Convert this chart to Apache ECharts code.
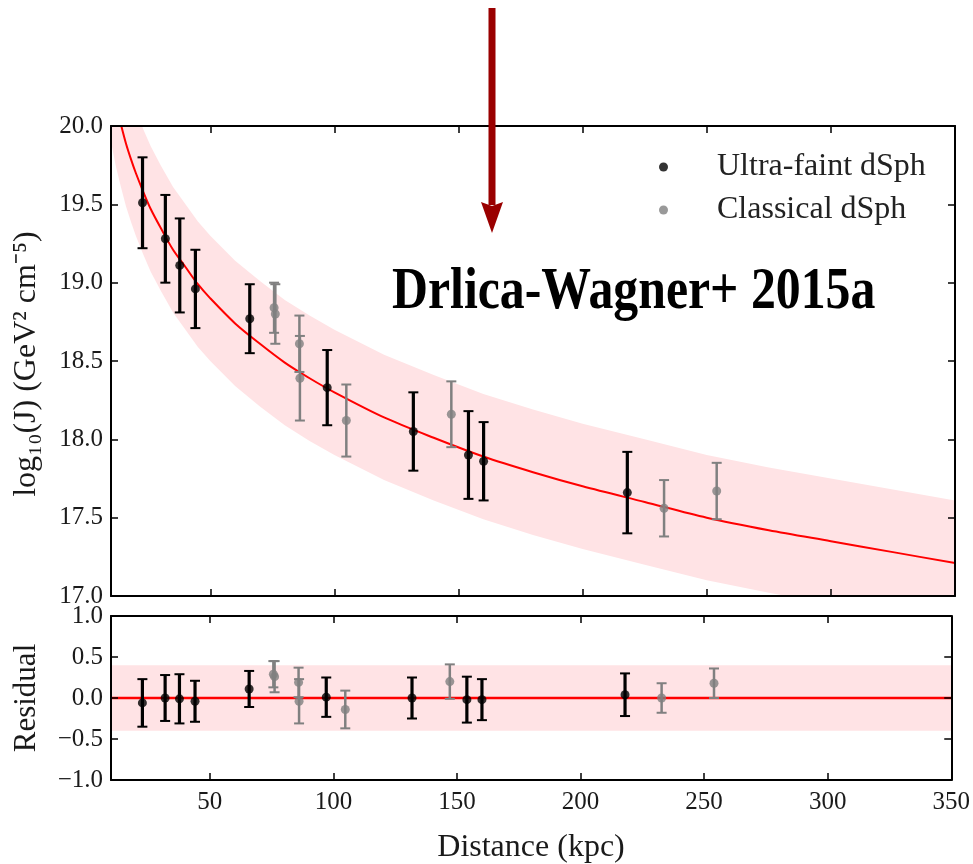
<!DOCTYPE html>
<html>
<head>
<meta charset="utf-8">
<script src="https://cdn.jsdelivr.net/npm/echarts@6/dist/echarts.min.js"></script>
<style>
html,body{margin:0;padding:0;background:#fff;}
#chart{width:973px;height:864px;}
</style>
</head>
<body>
<div id="chart"></div>
<script>
// ---------------- data ----------------
const xTicks = [50, 100, 150, 200, 250, 300, 350];
const X_MIN = 10, X_MAX = 350;
const BAND = 0.4;

// Ultra-faint dSph (black)
const ufDist = [22.7, 31.9, 37.7, 44.0, 65.9, 97.1, 131.8, 154.0, 160.1, 218.0];
const ufJ    = [19.51, 19.28, 19.11, 18.96, 18.77, 18.33, 18.05, 17.90, 17.86, 17.66];
const ufErr  = [0.29, 0.28, 0.30, 0.25, 0.22, 0.24, 0.25, 0.28, 0.25, 0.26];
const ufRes  = [-0.06, 0.00, -0.01, -0.04, 0.11, 0.01, 0.00, -0.02, -0.02, 0.04];

// Classical dSph (grey)
const clDist = [75.7, 76.2, 85.9, 86.1, 104.8, 147.1, 232.8, 254.0];
const clJ    = [18.84, 18.80, 18.61, 18.39, 18.12, 18.16, 17.56, 17.67];
const clErr  = [0.16, 0.19, 0.18, 0.27, 0.23, 0.21, 0.18, 0.18];
const clRes  = [0.29, 0.26, 0.19, -0.04, -0.14, 0.20, 0.00, 0.18];

// Model curve (red)
const curveDist = [10, 12, 14, 16, 18, 20, 23, 26, 30, 35, 40, 45, 50, 60, 70, 80, 90, 100, 120, 140, 160, 180, 200, 225, 250, 275, 300, 325, 350];
const curveJ    = [20.30, 20.14, 20.01, 19.89, 19.79, 19.70, 19.58, 19.47, 19.35, 19.21, 19.10, 18.99, 18.90, 18.74, 18.61, 18.49, 18.39, 18.30, 18.14, 18.01, 17.89, 17.79, 17.70, 17.60, 17.50, 17.42, 17.35, 17.28, 17.21];

// ---------------- styling ----------------
const FONT = 'Liberation Serif';
const BLACK = '#000000';
const GREY = '#808080';
const PINK = '#ffe3e5';
const RED = '#ff0000';
const TXT = '#1a1a1a';

const chart = echarts.init(document.getElementById('chart'), null, {renderer: 'canvas'});

function errBars(dist, val, err) {
  return dist.map((d, i) => [d, val[i] - err[i], val[i] + err[i]]);
}
function pts(dist, val) {
  return dist.map((d, i) => [d, val[i]]);
}
function errRender(color, lw, capHalf) {
  return function (params, api) {
    const x = api.value(0), lo = api.value(1), hi = api.value(2);
    const pHi = api.coord([x, hi]);
    const pLo = api.coord([x, lo]);
    const st = {stroke: color, lineWidth: lw};
    const capSt = {stroke: color, lineWidth: 2};
    return {
      type: 'group',
      children: [
        {type: 'line', shape: {x1: pHi[0], y1: pHi[1], x2: pLo[0], y2: pLo[1]}, style: st},
        {type: 'line', shape: {x1: pHi[0] - capHalf, y1: pHi[1], x2: pHi[0] + capHalf, y2: pHi[1]}, style: capSt},
        {type: 'line', shape: {x1: pLo[0] - capHalf, y1: pLo[1], x2: pLo[0] + capHalf, y2: pLo[1]}, style: capSt}
      ]
    };
  };
}

// band data: [distance, lower, upper]
const bandData = curveDist.map((d, i) => [d, curveJ[i] - BAND, curveJ[i] + BAND]);
function bandRender(params, api) {
  if (params.dataIndex !== 0) return null;
  const upper = bandData.map(r => api.coord([r[0], r[2]]));
  const lower = bandData.map(r => api.coord([r[0], r[1]])).reverse();
  const cs = params.coordSys;
  return {
    type: 'polygon',
    shape: {points: upper.concat(lower)},
    style: {fill: PINK},
    clipPath: {type: 'rect', shape: {x: cs.x, y: cs.y, width: cs.width, height: cs.height}}
  };
}

const axisLineStyle = {show: true, onZero: false, lineStyle: {color: '#000', width: 2}};
function xAx(grid, pos, labels) {
  return {
    type: 'value', gridIndex: grid, position: pos, min: X_MIN, max: X_MAX, z: 10,
    axisLine: axisLineStyle,
    axisTick: {show: true, inside: true, length: 7, customValues: xTicks, lineStyle: {color: '#000', width: 1.5}},
    axisLabel: labels ? {show: true, customValues: xTicks, fontFamily: FONT, fontSize: 25, color: TXT, margin: 10} : {show: false},
    splitLine: {show: false}
  };
}
function yAx(grid, pos, min, max, labels) {
  return {
    type: 'value', gridIndex: grid, position: pos, min: min, max: max, interval: 0.5, z: 10,
    axisLine: axisLineStyle,
    axisTick: {show: true, inside: true, length: 7, lineStyle: {color: '#000', width: 1.5}},
    axisLabel: labels ? {show: true, fontFamily: FONT, fontSize: 25, color: TXT, margin: 8,
      formatter: v => v.toFixed(1).replace('-', '\u2212')} : {show: false},
    splitLine: {show: false}
  };
}

const option = {
  animation: false,
  backgroundColor: '#ffffff',
  grid: [
    {left: 111, top: 126, width: 844, height: 470},
    {left: 111, top: 616, width: 844, height: 164}
  ],
  xAxis: [xAx(0, 'bottom', false), xAx(0, 'top', false), xAx(1, 'bottom', true), xAx(1, 'top', false)],
  yAxis: [yAx(0, 'left', 17, 20, true), yAx(0, 'right', 17, 20, false), yAx(1, 'left', -1, 1, true), yAx(1, 'right', -1, 1, false)],
  legend: {
    orient: 'vertical', left: 654, top: 146,
    data: ['Ultra-faint dSph', 'Classical dSph'],
    icon: 'circle', itemWidth: 9, itemHeight: 9, itemGap: 11,
    textStyle: {fontFamily: FONT, fontSize: 32, color: '#222', padding: [0, 0, 0, 44], lineHeight: 32}
  },
  series: [
    {
      type: 'custom', xAxisIndex: 0, yAxisIndex: 0, silent: true,
      renderItem: bandRender, data: bandData, encode: {x: 0, y: [1, 2]}, z: 1
    },
    {
      type: 'line', xAxisIndex: 0, yAxisIndex: 0, silent: true,
      data: pts(curveDist, curveJ), symbol: 'none', smooth: 0.3,
      lineStyle: {color: RED, width: 2}, z: 2
    },
    {
      type: 'custom', xAxisIndex: 0, yAxisIndex: 0, renderItem: errRender(GREY, 2.5, 5),
      data: errBars(clDist, clJ, clErr), encode: {x: 0, y: [1, 2]}, z: 3
    },
    {
      type: 'custom', xAxisIndex: 0, yAxisIndex: 0, renderItem: errRender(BLACK, 3.2, 5),
      data: errBars(ufDist, ufJ, ufErr), encode: {x: 0, y: [1, 2]}, z: 3
    },
    {
      name: 'Ultra-faint dSph', type: 'scatter', xAxisIndex: 0, yAxisIndex: 0,
      data: pts(ufDist, ufJ), symbol: 'circle', symbolSize: 9, itemStyle: {color: BLACK}, z: 4
    },
    {
      name: 'Classical dSph', type: 'scatter', xAxisIndex: 0, yAxisIndex: 0,
      data: pts(clDist, clJ), symbol: 'circle', symbolSize: 9, itemStyle: {color: GREY}, z: 4
    },
    // residual panel
    {
      type: 'line', xAxisIndex: 2, yAxisIndex: 2, silent: true,
      data: [[X_MIN, 0], [X_MAX, 0]], symbol: 'none',
      lineStyle: {color: RED, width: 2.5}, z: 2,
      markArea: {
        silent: true, itemStyle: {color: PINK, opacity: 1},
        data: [[{xAxis: X_MIN, yAxis: -BAND}, {xAxis: X_MAX, yAxis: BAND}]]
      }
    },
    {
      type: 'custom', xAxisIndex: 2, yAxisIndex: 2, renderItem: errRender(GREY, 2.5, 5),
      data: errBars(clDist, clRes, clErr), encode: {x: 0, y: [1, 2]}, z: 3
    },
    {
      type: 'custom', xAxisIndex: 2, yAxisIndex: 2, renderItem: errRender(BLACK, 3.2, 5),
      data: errBars(ufDist, ufRes, ufErr), encode: {x: 0, y: [1, 2]}, z: 3
    },
    {
      name: 'Ultra-faint dSph', type: 'scatter', xAxisIndex: 2, yAxisIndex: 2,
      data: pts(ufDist, ufRes), symbol: 'circle', symbolSize: 9, itemStyle: {color: BLACK}, z: 4
    },
    {
      name: 'Classical dSph', type: 'scatter', xAxisIndex: 2, yAxisIndex: 2,
      data: pts(clDist, clRes), symbol: 'circle', symbolSize: 9, itemStyle: {color: GREY}, z: 4
    }
  ],
  graphic: [
    {
      type: 'text', x: 531, y: 848, z: 10,
      style: {text: 'Distance (kpc)', fontFamily: FONT, fontSize: 32, fill: TXT, align: 'center', verticalAlign: 'middle'}
    },
    {
      type: 'text', x: 27, y: 364, rotation: Math.PI / 2, z: 10,
      style: {text: 'log\u2081\u2080(J) (GeV\u00b2 cm\u207b\u2075)', fontFamily: FONT, fontSize: 32, fill: TXT, align: 'center', verticalAlign: 'middle'}
    },
    {
      type: 'text', x: 27, y: 698, rotation: Math.PI / 2, z: 10,
      style: {text: 'Residual', fontFamily: FONT, fontSize: 31, fill: TXT, align: 'center', verticalAlign: 'middle'}
    },
    {
      type: 'text', x: 392, y: 292, scaleX: 0.83, z: 10,
      style: {text: 'Drlica-Wagner+ 2015a', fontFamily: FONT, fontWeight: 'bold', fontSize: 60, fill: '#000', align: 'left', verticalAlign: 'middle'}
    },
    {
      type: 'rect', z: 20,
      shape: {x: 488.5, y: 8, width: 7, height: 197},
      style: {fill: '#9a0000'}
    },
    {
      type: 'polygon', z: 20,
      shape: {points: [[481, 202], [492, 206], [503, 202], [492, 233]]},
      style: {fill: '#9a0000'}
    }
  ]
};
chart.setOption(option);
</script>
</body>
</html>
